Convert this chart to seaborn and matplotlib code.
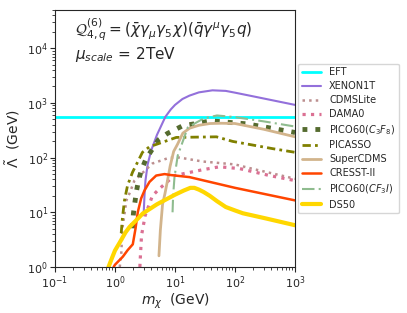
import matplotlib
matplotlib.use("Agg")
import matplotlib.pyplot as plt
import seaborn as sns

# limits (GeV)
eft_x = [0.1, 1000]
eft_y = [560, 560]

xenon_x = [3.0, 3.1, 3.22, 3.5, 4.0, 5.0, 6.9, 8.5, 10, 13.3, 17.4, 25, 42, 70, 100, 200, 400, 1000]
xenon_y = [9, 20, 38, 75, 134, 260, 556, 760, 920, 1180, 1360, 1560, 1700, 1660, 1540, 1320, 1130, 920]

cdms_x = [1.2, 1.27, 1.33, 1.55, 1.74, 2.11, 3.0, 4.2, 8.1, 12, 28.7, 100, 200, 400, 1000]
cdms_y = [1.0, 1.65, 5.1, 16.5, 22, 38, 55, 78, 100, 100, 85, 75, 62, 52, 41]

dama_x = [2.6, 2.63, 2.77, 3.19, 4.2, 5.5, 9.8, 28.7, 55, 119, 376, 1000]
dama_y = [1.0, 1.34, 3.8, 8.8, 20, 27, 47, 60, 68, 63, 47, 38]

pico_x = [1.96, 2.03, 2.26, 2.46, 2.77, 3.31, 5.3, 7.5, 13.3, 40, 154, 348, 1000]
pico_y = [5.1, 9.6, 23, 38, 60, 96, 212, 277, 380, 470, 415, 355, 288]

picasso_x = [1.27, 1.33, 1.44, 1.62, 1.96, 2.37, 2.87, 3.76, 10.5, 49, 91, 420, 1000]
picasso_y = [4.15, 7.8, 16.5, 31, 54, 82, 125, 158, 234, 240, 198, 146, 125]

scdms_x = [5.4, 5.7, 6.2, 6.8, 7.5, 8.3, 9.5, 11, 13.5, 17.5, 25, 38, 60, 100, 300, 1000]
scdms_y = [1.6, 4.7, 14, 22, 38, 70, 130, 175, 280, 345, 390, 420, 425, 420, 330, 240]

cresst_x = [0.95, 1.0, 1.35, 1.63, 1.98, 2.2, 2.4, 2.73, 3.1, 3.76, 4.86, 6.7, 8.5, 17.4, 100, 1000]
cresst_y = [1.0, 1.1, 1.54, 2.04, 2.6, 5.06, 10.1, 18, 25, 36, 47, 50, 48, 44, 28, 16.5]

cf3i_x = [9.1, 9.3, 9.8, 11.1, 12.7, 16.3, 22.6, 30, 50, 100, 300, 1000]
cf3i_y = [10, 20, 44, 109, 165, 355, 437, 520, 590, 550, 460, 370]

ds_x = [0.78, 0.9, 1.0, 1.2, 1.5, 1.75, 2.5, 2.9, 5.0, 10, 14, 18, 21, 25, 30, 38, 50, 70, 100, 135, 330, 1000]
ds_y = [1.0, 1.5, 2.0, 2.8, 4.3, 5.4, 8.0, 9.5, 14, 21, 25, 28, 28, 26, 23.5, 20, 16, 12.5, 10.8, 9.6, 7.7, 5.8]

sns.set_style("ticks")
plt.rcParams["font.family"] = ["DejaVu Sans"]
plt.rcParams["xtick.major.size"] = 3.5
plt.rcParams["ytick.major.size"] = 3.5
plt.rcParams["xtick.minor.size"] = 2
plt.rcParams["ytick.minor.size"] = 2

fig = plt.figure(figsize=(4.07, 3.13), dpi=100)
ax = fig.add_axes([0.135, 0.147, 0.59, 0.821])

# (x, y, label, colour, width, style)
curves = [
    (eft_x, eft_y, "EFT", "cyan", 2, "-"),
    (xenon_x, xenon_y, "XENON1T", "mediumpurple", 1.5, "-"),
    (cdms_x, cdms_y, "CDMSLite", "rosybrown", 1.8, ":"),
    (dama_x, dama_y, "DAMA0", "palevioletred", 2.3, ":"),
    (pico_x, pico_y, "PICO60($C_3F_8$)", "darkolivegreen", 3.5, ":"),
    (picasso_x, picasso_y, "PICASSO", "olive", 2, (0, (3, 1.5, 1, 1.5))),
    (scdms_x, scdms_y, "SuperCDMS", "tan", 2, "-"),
    (cresst_x, cresst_y, "CRESST-II", "orangered", 1.8, "-"),
    (cf3i_x, cf3i_y, "PICO60($CF_3I$)", "darkseagreen", 1.5, (0, (6, 2, 1, 2))),
    (ds_x, ds_y, "DS50", "gold", 3, "-"),
]
for xs, ys, lab, col, lw, ls in curves:
    sns.lineplot(x=xs, y=ys, ax=ax, label=lab, color=col, lw=lw,
                 linestyle=ls, sort=False, estimator=None)

ax.set_xscale("log")
ax.set_yscale("log")
ax.set_xlim(0.1, 1000)
ax.set_ylim(1, 5e4)
ax.tick_params(labelsize=8, pad=1.5)
ax.set_xlabel(r"$m_\chi$  (GeV)", fontsize=10, labelpad=1)
ax.set_ylabel(r"$\tilde{\Lambda}$  (GeV)", fontsize=10)

ax.text(0.083, 0.922, r"$\mathcal{Q}^{(6)}_{4,q} = (\bar{\chi}\gamma_\mu\gamma_5\chi)(\bar{q}\gamma^\mu\gamma_5 q)$",
        transform=ax.transAxes, fontsize=11, va="center")
ax.text(0.083, 0.825, r"$\mu_{scale}$ = 2TeV", transform=ax.transAxes, fontsize=11, va="center")

ax.legend(loc="center left", bbox_to_anchor=(1.0, 0.5), fontsize=7,
          borderaxespad=0.3, labelspacing=0.4)

fig.savefig("out.png", dpi=100)
